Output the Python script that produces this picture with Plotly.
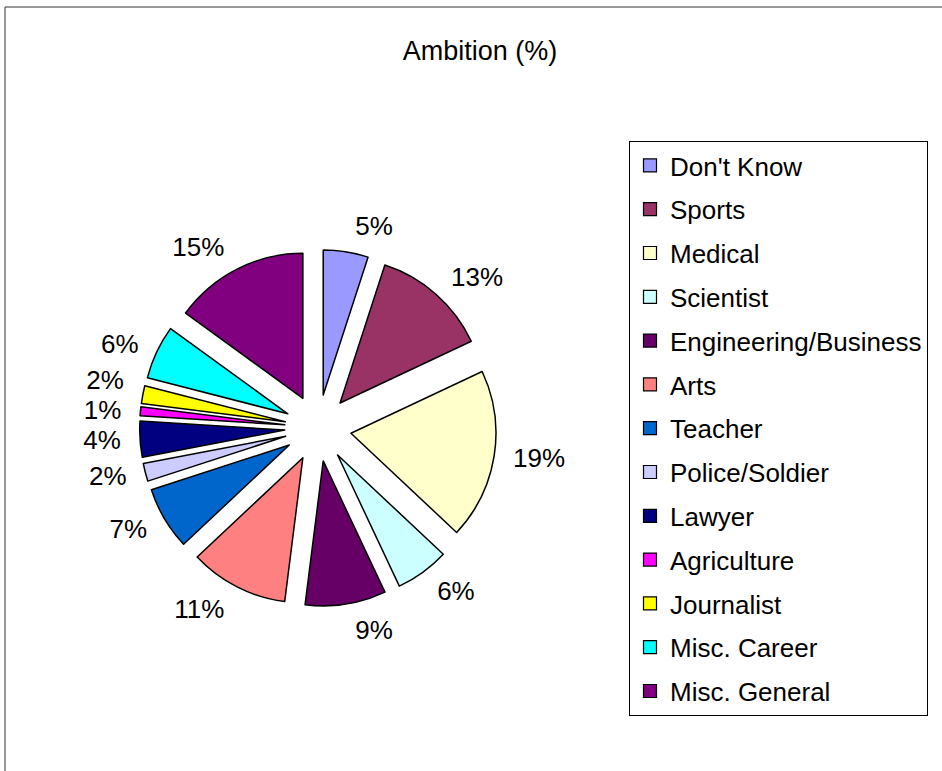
import plotly.graph_objects as go

# Career ambitions, percentage of respondents
categories = ["Don't Know", "Sports", "Medical", "Scientist", "Engineering/Business",
              "Arts", "Teacher", "Police/Soldier", "Lawyer", "Agriculture",
              "Journalist", "Misc. Career", "Misc. General"]
shares = [5, 13, 19, 6, 9, 11, 7, 2, 4, 1, 2, 6, 15]
colors = ["#9999FF", "#993366", "#FFFFCC", "#CCFFFF", "#660066",
          "#FF8080", "#0066CC", "#CCCCFF", "#000080", "#FF00FF",
          "#FFFF00", "#00FFFF", "#800080"]

W, H = 942, 771
FONT = "Liberation Sans, Arial, sans-serif"
CX, CY = 318, 428          # pie centre, pixels from top-left
R = 145                    # slice radius, pixels
PULL = 0.23                # explosion of every slice
LABEL_PULL = 0.31          # labels sit a little further out than the slices


def domain_for(pull):
    half = R * (1 + pull)
    return dict(x=[(CX - half) / W, (CX + half) / W],
                y=[(H - CY - half) / H, (H - CY + half) / H])


fig = go.Figure()

# Exploded pie, clockwise from 12 o'clock
fig.add_trace(go.Pie(
    labels=categories,
    values=shares,
    sort=False,
    direction="clockwise",
    rotation=0,
    pull=PULL,
    marker=dict(colors=colors, line=dict(color="black", width=1.5)),
    textinfo="none",
    showlegend=False,
    hoverinfo="label+value",
    domain=domain_for(PULL),
))

# Percentage labels around the pie; connector lines take the base font
# colour (white, so they vanish) while the span paints the text black
fig.add_trace(go.Pie(
    labels=categories,
    values=shares,
    sort=False,
    direction="clockwise",
    rotation=0,
    pull=LABEL_PULL,
    marker=dict(colors=["rgba(0,0,0,0)"] * len(shares), line=dict(width=0)),
    texttemplate="<span style='color:black'>%{value}%</span>",
    textposition="outside",
    textfont=dict(family=FONT, size=26, color="white"),
    showlegend=False,
    hoverinfo="skip",
    domain=domain_for(LABEL_PULL),
))

# Legend entries: one group per category for even row spacing
for name, col in zip(categories, colors):
    fig.add_trace(go.Scatter(
        x=[None], y=[None], mode="markers", name=name,
        legendgroup=name,
        marker=dict(symbol="square", size=13, color=col,
                    line=dict(color="black", width=1.2)),
    ))

fig.update_layout(
    width=W, height=H,
    margin=dict(l=0, r=0, t=0, b=0, autoexpand=False),
    paper_bgcolor="white", plot_bgcolor="white",
    xaxis=dict(visible=False), yaxis=dict(visible=False),
    title=dict(text="Ambition (%)", x=480 / W, xanchor="center",
               y=1 - 51 / H, yanchor="middle",
               font=dict(family=FONT, size=27, color="black")),
    legend=dict(x=629 / W, xanchor="left", y=1 - 141 / H, yanchor="top",
                bgcolor="white", bordercolor="black", borderwidth=1,
                font=dict(family=FONT, size=26, color="black"),
                tracegroupgap=7, itemsizing="trace"),
    shapes=[dict(type="rect", xref="paper", yref="paper",
                 x0=5 / W, x1=1.02, y0=-0.02, y1=1 - 7 / H,
                 line=dict(color="#333333", width=1))],
)

fig.write_html("out.html")
